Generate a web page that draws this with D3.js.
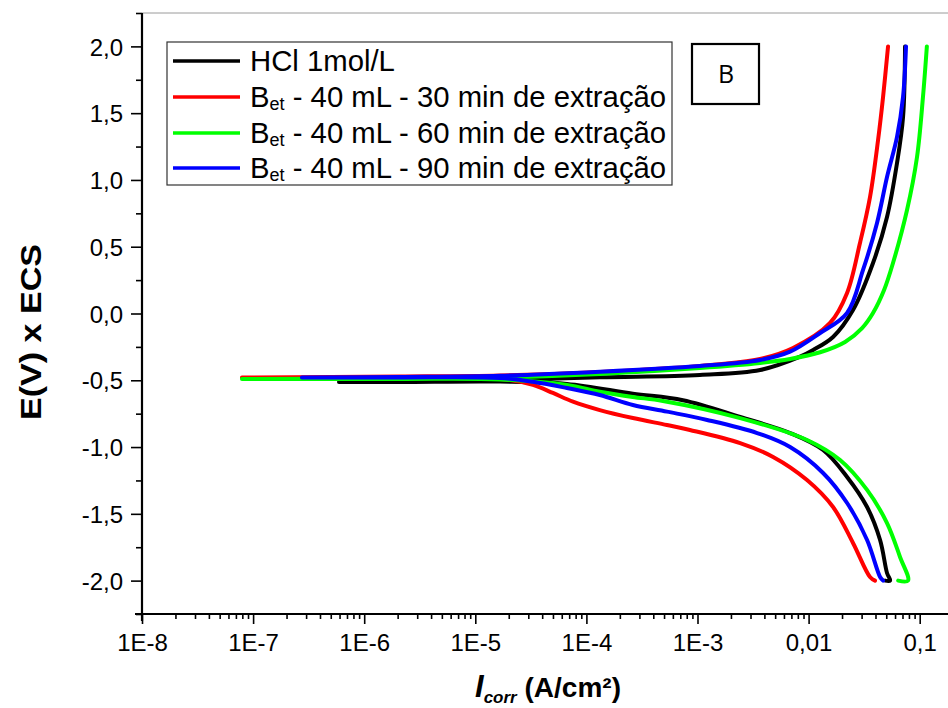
<!DOCTYPE html>
<html>
<head>
<meta charset="utf-8">
<script src="https://cdn.jsdelivr.net/npm/d3@7"></script>
<style>
  body { margin: 0; background: #fff; }
  svg { display: block; font-family: "Liberation Sans", Arial, sans-serif; }
</style>
</head>
<body>
<svg id="chart" width="948" height="708"></svg>
<script>
"use strict";

// Polarization curves, each point is [current density (A/cm2), potential (V)],
// ordered along the sweep from -2,0 V up to 2,0 V.
var hcl = [
    [4.9e-2, -2.0], [5.41e-2, -2.0], [5.08e-2, -1.943], [4.4e-2, -1.696], [3.36e-2, -1.449],
    [2.22e-2, -1.224], [1.35e-2, -1.022], [6.81e-3, -0.895], [2.42e-3, -0.775],
    [7.39e-4, -0.65], [2.62e-4, -0.6], [6.68e-5, -0.527], [1.67e-5, -0.51],
    [2.1e-6, -0.513], [5.93e-7, -0.513],
    [2.1e-6, -0.51], [1.67e-5, -0.498], [1.32e-4, -0.478], [1.05e-3, -0.46],
    [3.66e-3, -0.423], [8.38e-3, -0.323], [1.1e-2, -0.273], [1.66e-2, -0.176],
    [2.51e-2, 0.026], [3.8e-2, 0.378], [5.08e-2, 0.723], [6.25e-2, 1.127],
    [7.08e-2, 1.471], [7.38e-2, 2.0]
];

var bet30 = [
    [3.96e-2, -2.0], [3.57e-2, -1.973], [2.51e-2, -1.718], [1.66e-2, -1.449],
    [9.68e-3, -1.247], [4.79e-3, -1.074], [2.42e-3, -0.97], [8.55e-4, -0.872],
    [5.31e-4, -0.835], [2.62e-4, -0.783], [1.32e-4, -0.723], [7.57e-5, -0.66],
    [5.0e-5, -0.595], [3.3e-5, -0.535], [1.67e-5, -0.49], [2.1e-6, -0.483],
    [7.94e-8, -0.479],
    [2.1e-6, -0.472], [1.67e-5, -0.464], [1.32e-4, -0.438], [1.05e-3, -0.393],
    [3.66e-3, -0.34], [7.24e-3, -0.258], [1.56e-2, -0.071], [2.22e-2, 0.154],
    [2.9e-2, 0.528], [3.57e-2, 0.872], [4.22e-2, 1.299], [4.68e-2, 1.621],
    [5.19e-2, 2.0]
];

var bet60 = [
    [6.4e-2, -2.0], [7.85e-2, -2.0], [6.65e-2, -1.823], [5.08e-2, -1.569], [3.36e-2, -1.321],
    [1.92e-2, -1.097], [9.68e-3, -0.947], [2.42e-3, -0.783], [4.89e-4, -0.655],
    [2.62e-4, -0.625], [1.32e-4, -0.586], [6.68e-5, -0.535], [1.67e-5, -0.494],
    [2.1e-6, -0.49], [7.94e-8, -0.49],
    [2.1e-6, -0.486], [1.67e-5, -0.48], [1.32e-4, -0.453], [1.05e-3, -0.408],
    [3.66e-3, -0.37], [6.81e-3, -0.34], [1.27e-2, -0.29], [2.13e-2, -0.213],
    [3.03e-2, -0.109], [3.8e-2, 0.004], [4.78e-2, 0.176], [5.75e-2, 0.378],
    [7.69e-2, 0.775], [9.46e-2, 1.172], [0.107, 1.621], [0.116, 2.0]
];

var bet90 = [
    [4.68e-2, -2.0], [4.4e-2, -1.973], [3.36e-2, -1.696], [2.22e-2, -1.419],
    [1.35e-2, -1.194], [6.81e-3, -1.0], [3.44e-3, -0.895], [1.22e-3, -0.797],
    [5.31e-4, -0.735], [2.62e-4, -0.685], [1.32e-4, -0.61], [6.68e-5, -0.558],
    [3.3e-5, -0.511], [1.67e-5, -0.483], [2.1e-6, -0.479], [2.75e-7, -0.479],
    [2.1e-6, -0.475], [1.67e-5, -0.466], [1.32e-4, -0.436], [1.05e-3, -0.393],
    [3.66e-3, -0.348], [6.81e-3, -0.286], [1.27e-2, -0.146], [2.22e-2, 0.004],
    [3.09e-2, 0.326], [4.13e-2, 0.678], [5.08e-2, 1.022], [6.25e-2, 1.322],
    [7.08e-2, 1.621], [7.53e-2, 2.0]
];

var seriesNames = ["HCl 1mol/L", "40 mL - 30 min de extração", "40 mL - 60 min de extração", "40 mL - 90 min de extração"];
var seriesColors = ["#000000", "#ff0000", "#00ff00", "#0000ff"];

var xTickValues = [1e-8, 1e-7, 1e-6, 1e-5, 1e-4, 1e-3, 1e-2, 1e-1];
var xTickLabels = ["1E-8", "1E-7", "1E-6", "1E-5", "1E-4", "1E-3", "0,01", "0,1"];
var yTickValues = [-2.0, -1.5, -1.0, -0.5, 0.0, 0.5, 1.0, 1.5, 2.0];

var svg = d3.select("#chart");

var x = d3.scaleLog().domain([1e-8, 1]).range([142, 142 + 8 * 111.1]);
var y = d3.scaleLinear().domain([-2.25, 2.25]).range([614, 13]);

// thin top frame line
svg.append("line")
    .attr("x1", 142).attr("x2", 948)
    .attr("y1", 13).attr("y2", 13)
    .attr("stroke", "#9a9a9a").attr("stroke-width", 1);

// curves
var line = d3.line()
    .x(function(d) { return x(d[0]); })
    .y(function(d) { return y(d[1]); })
    .curve(d3.curveCatmullRom.alpha(0.5));

[hcl, bet30, bet60, bet90].forEach(function(data, i) {
    svg.append("path")
        .datum(data)
        .attr("d", line)
        .attr("fill", "none")
        .attr("stroke", seriesColors[i])
        .attr("stroke-width", 4)
        .attr("stroke-linejoin", "round")
        .attr("stroke-linecap", "round");
});

// x axis: major + minor ticks
var xMinor = [];
for (var e = -8; e <= -1; e++) {
    for (var m = 2; m <= 9; m++) xMinor.push(m * Math.pow(10, e));
}
var xAxisMinor = d3.axisBottom(x).tickValues(xMinor).tickSize(5).tickFormat("");
var xAxis = d3.axisBottom(x).tickValues(xTickValues).tickSize(10)
    .tickFormat(function(d, i) { return xTickLabels[i]; });

svg.append("g").attr("transform", "translate(0,614)").call(xAxisMinor);
var gx = svg.append("g").attr("transform", "translate(0,614)").call(xAxis);

// y axis
var yMinor = d3.range(-2.25, 2.26, 0.5);
var yAxisMinor = d3.axisLeft(y).tickValues(yMinor).tickSize(6).tickFormat("");
var yAxis = d3.axisLeft(y).tickValues(yTickValues).tickSize(11)
    .tickFormat(function(d) { return d3.format(".1f")(d).replace(".", ",").replace("−", "-"); });

svg.append("g").attr("transform", "translate(142,0)").call(yAxisMinor);
var gy = svg.append("g").attr("transform", "translate(142,0)").call(yAxis);

svg.selectAll(".domain").remove();
svg.selectAll(".tick line").attr("stroke", "#000").attr("stroke-width", 1.6);

gx.selectAll(".tick text")
    .attr("y", 20).attr("dy", "0.71em")
    .attr("font-size", 24).attr("fill", "#000")
    .attr("font-family", "'Liberation Sans', Arial, sans-serif");
gy.selectAll(".tick text")
    .attr("x", -19).attr("dy", "0.36em")
    .attr("font-size", 24).attr("fill", "#000")
    .attr("font-family", "'Liberation Sans', Arial, sans-serif");

// axis lines
svg.append("line").attr("x1", 135).attr("x2", 948).attr("y1", 614).attr("y2", 614)
    .attr("stroke", "#000").attr("stroke-width", 2.2);
svg.append("line").attr("x1", 142).attr("x2", 142).attr("y1", 13).attr("y2", 621)
    .attr("stroke", "#000").attr("stroke-width", 2.2);

// axis titles
svg.append("text")
    .attr("transform", "translate(41,332) rotate(-90)")
    .attr("text-anchor", "middle")
    .attr("font-size", 29).attr("font-weight", "bold")
    .attr("textLength", 176).attr("lengthAdjust", "spacingAndGlyphs")
    .text("E(V) x ECS");

var xt = svg.append("text")
    .attr("x", 548).attr("y", 697)
    .attr("text-anchor", "middle")
    .attr("font-size", 28).attr("font-weight", "bold");
xt.append("tspan").attr("font-style", "italic").attr("font-size", 31).text("I");
xt.append("tspan").attr("font-style", "italic").attr("font-size", 17).attr("dy", 6).text("corr");
xt.append("tspan").attr("dy", -6).text(" (A/cm²)");

// legend
var legend = svg.append("g");
legend.append("rect")
    .attr("x", 167).attr("y", 42).attr("width", 505).attr("height", 143)
    .attr("fill", "#fff").attr("stroke", "#333").attr("stroke-width", 1.2);

var rowY = [61, 97, 133, 168];
seriesNames.forEach(function(name, i) {
    legend.append("line")
        .attr("x1", 173).attr("x2", 240)
        .attr("y1", rowY[i]).attr("y2", rowY[i])
        .attr("stroke", seriesColors[i]).attr("stroke-width", 3.5);
    var t = legend.append("text")
        .attr("x", 250).attr("y", rowY[i] + 10)
        .attr("font-size", 29.3);
    if (i === 0) {
        t.text(name);
    } else {
        t.append("tspan").text("B");
        t.append("tspan").attr("font-size", 18).attr("dy", 3).text("et");
        t.append("tspan").attr("dy", -3).text(" - " + name);
    }
});

// panel tag
svg.append("rect")
    .attr("x", 692).attr("y", 44).attr("width", 67).attr("height", 60)
    .attr("fill", "#fff").attr("stroke", "#000").attr("stroke-width", 2.2);
svg.append("text")
    .attr("x", 726).attr("y", 83)
    .attr("text-anchor", "middle")
    .attr("font-family", "'Open Sans', 'DejaVu Sans', sans-serif")
    .attr("font-size", 25)
    .text("B");
</script>
</body>
</html>
